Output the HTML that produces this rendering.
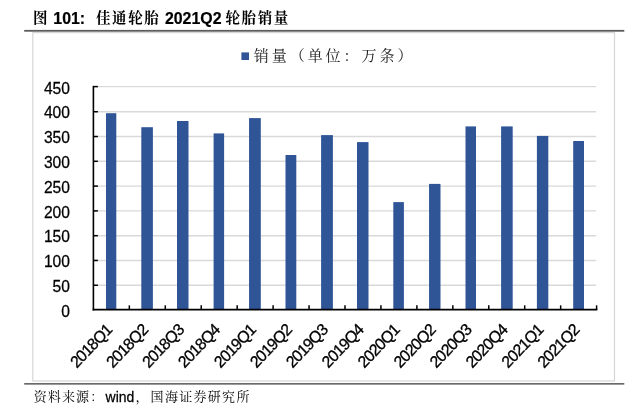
<!DOCTYPE html>
<html lang="zh-CN">
<head>
<meta charset="utf-8">
<title>图 101: 佳通轮胎 2021Q2 轮胎销量</title>
<style>
html,body{margin:0;padding:0;background:#fff;}
body{width:629px;height:415px;overflow:hidden;position:relative;}
svg{position:absolute;left:0;top:0;display:block;will-change:transform;}
text{font-family:"Liberation Sans", "Noto Sans CJK SC", sans-serif;}
.cjk{font-family:"Liberation Sans", "Noto Serif CJK SC", serif;}
</style>
</head>
<body>
<svg width="629" height="415" viewBox="0 0 629 415">
<rect x="0" y="0" width="629" height="415" fill="#ffffff"/>
<rect x="32.8" y="32.6" width="581.7" height="348.4" fill="none" stroke="#d6d6d6" stroke-width="1.2"/>
<rect x="24.2" y="29.9" width="600.1" height="1.8" fill="#5c5c5c"/>
<rect x="24.2" y="383.1" width="600.1" height="1.5" fill="#595959"/>
<line x1="94.20" y1="285.26" x2="596.20" y2="285.26" stroke="#d9d9d9" stroke-width="1.4"/>
<line x1="94.20" y1="260.47" x2="596.20" y2="260.47" stroke="#d9d9d9" stroke-width="1.4"/>
<line x1="94.20" y1="235.68" x2="596.20" y2="235.68" stroke="#d9d9d9" stroke-width="1.4"/>
<line x1="94.20" y1="210.89" x2="596.20" y2="210.89" stroke="#d9d9d9" stroke-width="1.4"/>
<line x1="94.20" y1="186.10" x2="596.20" y2="186.10" stroke="#d9d9d9" stroke-width="1.4"/>
<line x1="94.20" y1="161.31" x2="596.20" y2="161.31" stroke="#d9d9d9" stroke-width="1.4"/>
<line x1="94.20" y1="136.52" x2="596.20" y2="136.52" stroke="#d9d9d9" stroke-width="1.4"/>
<line x1="94.20" y1="111.73" x2="596.20" y2="111.73" stroke="#d9d9d9" stroke-width="1.4"/>
<line x1="94.20" y1="86.60" x2="596.20" y2="86.60" stroke="#d9d9d9" stroke-width="1.4"/>
<rect x="106.00" y="113.20" width="10.30" height="196.45" fill="#2f5597"/>
<rect x="141.30" y="127.20" width="11.60" height="182.45" fill="#2f5597"/>
<rect x="177.00" y="121.00" width="11.50" height="188.65" fill="#2f5597"/>
<rect x="213.60" y="133.40" width="10.50" height="176.25" fill="#2f5597"/>
<rect x="249.05" y="118.10" width="11.75" height="191.55" fill="#2f5597"/>
<rect x="285.50" y="155.00" width="10.80" height="154.65" fill="#2f5597"/>
<rect x="321.10" y="135.10" width="11.80" height="174.55" fill="#2f5597"/>
<rect x="357.00" y="142.10" width="11.50" height="167.55" fill="#2f5597"/>
<rect x="393.30" y="202.10" width="10.60" height="107.55" fill="#2f5597"/>
<rect x="429.05" y="183.90" width="11.45" height="125.75" fill="#2f5597"/>
<rect x="465.50" y="126.40" width="10.50" height="183.25" fill="#2f5597"/>
<rect x="501.10" y="126.40" width="11.60" height="183.25" fill="#2f5597"/>
<rect x="536.90" y="135.90" width="11.40" height="173.75" fill="#2f5597"/>
<rect x="573.20" y="141.00" width="10.80" height="168.65" fill="#2f5597"/>
<line x1="93.40" y1="85.85" x2="93.40" y2="310.45" stroke="#000" stroke-width="1.6"/>
<line x1="92.60" y1="309.65" x2="597.35" y2="309.65" stroke="#000" stroke-width="1.6"/>
<line x1="93.40" y1="285.26" x2="97.90" y2="285.26" stroke="#000" stroke-width="1.5"/>
<line x1="93.40" y1="260.47" x2="97.90" y2="260.47" stroke="#000" stroke-width="1.5"/>
<line x1="93.40" y1="235.68" x2="97.90" y2="235.68" stroke="#000" stroke-width="1.5"/>
<line x1="93.40" y1="210.89" x2="97.90" y2="210.89" stroke="#000" stroke-width="1.5"/>
<line x1="93.40" y1="186.10" x2="97.90" y2="186.10" stroke="#000" stroke-width="1.5"/>
<line x1="93.40" y1="161.31" x2="97.90" y2="161.31" stroke="#000" stroke-width="1.5"/>
<line x1="93.40" y1="136.52" x2="97.90" y2="136.52" stroke="#000" stroke-width="1.5"/>
<line x1="93.40" y1="111.73" x2="97.90" y2="111.73" stroke="#000" stroke-width="1.5"/>
<line x1="93.40" y1="86.60" x2="97.90" y2="86.60" stroke="#000" stroke-width="1.5"/>
<line x1="129.34" y1="309.65" x2="129.34" y2="305.35" stroke="#000" stroke-width="1.5"/>
<line x1="165.29" y1="309.65" x2="165.29" y2="305.35" stroke="#000" stroke-width="1.5"/>
<line x1="201.23" y1="309.65" x2="201.23" y2="305.35" stroke="#000" stroke-width="1.5"/>
<line x1="237.17" y1="309.65" x2="237.17" y2="305.35" stroke="#000" stroke-width="1.5"/>
<line x1="273.11" y1="309.65" x2="273.11" y2="305.35" stroke="#000" stroke-width="1.5"/>
<line x1="309.06" y1="309.65" x2="309.06" y2="305.35" stroke="#000" stroke-width="1.5"/>
<line x1="345.00" y1="309.65" x2="345.00" y2="305.35" stroke="#000" stroke-width="1.5"/>
<line x1="380.94" y1="309.65" x2="380.94" y2="305.35" stroke="#000" stroke-width="1.5"/>
<line x1="416.89" y1="309.65" x2="416.89" y2="305.35" stroke="#000" stroke-width="1.5"/>
<line x1="452.83" y1="309.65" x2="452.83" y2="305.35" stroke="#000" stroke-width="1.5"/>
<line x1="488.77" y1="309.65" x2="488.77" y2="305.35" stroke="#000" stroke-width="1.5"/>
<line x1="524.71" y1="309.65" x2="524.71" y2="305.35" stroke="#000" stroke-width="1.5"/>
<line x1="560.66" y1="309.65" x2="560.66" y2="305.35" stroke="#000" stroke-width="1.5"/>
<line x1="596.60" y1="309.65" x2="596.60" y2="305.35" stroke="#000" stroke-width="1.5"/>
<text transform="translate(69.90,316.80) scale(1,1.040)" font-size="15.6" text-anchor="end" stroke="#000" stroke-width="0.25" fill="#000">0</text>
<text transform="translate(69.90,292.01) scale(1,1.040)" font-size="15.6" text-anchor="end" stroke="#000" stroke-width="0.25" fill="#000">50</text>
<text transform="translate(69.90,267.22) scale(1,1.040)" font-size="15.6" text-anchor="end" stroke="#000" stroke-width="0.25" fill="#000">100</text>
<text transform="translate(69.90,242.43) scale(1,1.040)" font-size="15.6" text-anchor="end" stroke="#000" stroke-width="0.25" fill="#000">150</text>
<text transform="translate(69.90,217.64) scale(1,1.040)" font-size="15.6" text-anchor="end" stroke="#000" stroke-width="0.25" fill="#000">200</text>
<text transform="translate(69.90,192.85) scale(1,1.040)" font-size="15.6" text-anchor="end" stroke="#000" stroke-width="0.25" fill="#000">250</text>
<text transform="translate(69.90,168.06) scale(1,1.040)" font-size="15.6" text-anchor="end" stroke="#000" stroke-width="0.25" fill="#000">300</text>
<text transform="translate(69.90,143.27) scale(1,1.040)" font-size="15.6" text-anchor="end" stroke="#000" stroke-width="0.25" fill="#000">350</text>
<text transform="translate(69.90,118.48) scale(1,1.040)" font-size="15.6" text-anchor="end" stroke="#000" stroke-width="0.25" fill="#000">400</text>
<text transform="translate(69.90,93.69) scale(1,1.040)" font-size="15.6" text-anchor="end" stroke="#000" stroke-width="0.25" fill="#000">450</text>
<text transform="translate(112.87,331.00) scale(1,1.045) rotate(-45)" font-size="15.8" letter-spacing="-0.85" text-anchor="end" fill="#000" stroke="#000" stroke-width="0.3">2018Q1</text>
<text transform="translate(148.81,331.00) scale(1,1.045) rotate(-45)" font-size="15.8" letter-spacing="-0.85" text-anchor="end" fill="#000" stroke="#000" stroke-width="0.3">2018Q2</text>
<text transform="translate(184.76,331.00) scale(1,1.045) rotate(-45)" font-size="15.8" letter-spacing="-0.85" text-anchor="end" fill="#000" stroke="#000" stroke-width="0.3">2018Q3</text>
<text transform="translate(220.70,331.00) scale(1,1.045) rotate(-45)" font-size="15.8" letter-spacing="-0.85" text-anchor="end" fill="#000" stroke="#000" stroke-width="0.3">2018Q4</text>
<text transform="translate(256.64,331.00) scale(1,1.045) rotate(-45)" font-size="15.8" letter-spacing="-0.85" text-anchor="end" fill="#000" stroke="#000" stroke-width="0.3">2019Q1</text>
<text transform="translate(292.59,331.00) scale(1,1.045) rotate(-45)" font-size="15.8" letter-spacing="-0.85" text-anchor="end" fill="#000" stroke="#000" stroke-width="0.3">2019Q2</text>
<text transform="translate(328.53,331.00) scale(1,1.045) rotate(-45)" font-size="15.8" letter-spacing="-0.85" text-anchor="end" fill="#000" stroke="#000" stroke-width="0.3">2019Q3</text>
<text transform="translate(364.47,331.00) scale(1,1.045) rotate(-45)" font-size="15.8" letter-spacing="-0.85" text-anchor="end" fill="#000" stroke="#000" stroke-width="0.3">2019Q4</text>
<text transform="translate(400.41,331.00) scale(1,1.045) rotate(-45)" font-size="15.8" letter-spacing="-0.85" text-anchor="end" fill="#000" stroke="#000" stroke-width="0.3">2020Q1</text>
<text transform="translate(436.36,331.00) scale(1,1.045) rotate(-45)" font-size="15.8" letter-spacing="-0.85" text-anchor="end" fill="#000" stroke="#000" stroke-width="0.3">2020Q2</text>
<text transform="translate(472.30,331.00) scale(1,1.045) rotate(-45)" font-size="15.8" letter-spacing="-0.85" text-anchor="end" fill="#000" stroke="#000" stroke-width="0.3">2020Q3</text>
<text transform="translate(508.24,331.00) scale(1,1.045) rotate(-45)" font-size="15.8" letter-spacing="-0.85" text-anchor="end" fill="#000" stroke="#000" stroke-width="0.3">2020Q4</text>
<text transform="translate(544.19,331.00) scale(1,1.045) rotate(-45)" font-size="15.8" letter-spacing="-0.85" text-anchor="end" fill="#000" stroke="#000" stroke-width="0.3">2021Q1</text>
<text transform="translate(580.13,331.00) scale(1,1.045) rotate(-45)" font-size="15.8" letter-spacing="-0.85" text-anchor="end" fill="#000" stroke="#000" stroke-width="0.3">2021Q2</text>
<rect x="241.4" y="52.4" width="7.6" height="7.6" fill="#2f5597"/>
<text class="cjk" x="253.80" y="61.00" font-size="15" letter-spacing="2.95" fill="#222">销量（单位：万条）</text>
<text class="cjk" x="33.00" y="23.40" font-size="14.5" letter-spacing="0" font-weight="bold" fill="#000">图</text>
<text transform="translate(53.30,23.50) scale(1,1.040)" font-size="15.9" text-anchor="start" font-weight="bold" stroke="#000" stroke-width="0.2" fill="#000">101:</text>
<text class="cjk" x="96.00" y="23.40" font-size="14.5" letter-spacing="1.6" font-weight="bold" fill="#000">佳通轮胎</text>
<text transform="translate(164.90,23.50) scale(1,1.040)" font-size="15.9" text-anchor="start" font-weight="bold" stroke="#000" stroke-width="0.2" fill="#000">2021Q2</text>
<text class="cjk" x="225.50" y="23.40" font-size="14.5" letter-spacing="1.6" font-weight="bold" fill="#000">轮胎销量</text>
<text class="cjk" x="33.80" y="401.20" font-size="13" letter-spacing="1.1" fill="#000">资料来源：</text>
<text transform="translate(105.60,402.10) scale(1,1.040)" font-size="14" text-anchor="start" stroke="#000" stroke-width="0.25" fill="#000">wind</text>
<text class="cjk" x="135.60" y="401.20" font-size="13" letter-spacing="0" fill="#000">，</text>
<text class="cjk" x="150.60" y="401.20" font-size="13" letter-spacing="1.3" fill="#000">国海证券研究所</text>
</svg>
</body>
</html>
